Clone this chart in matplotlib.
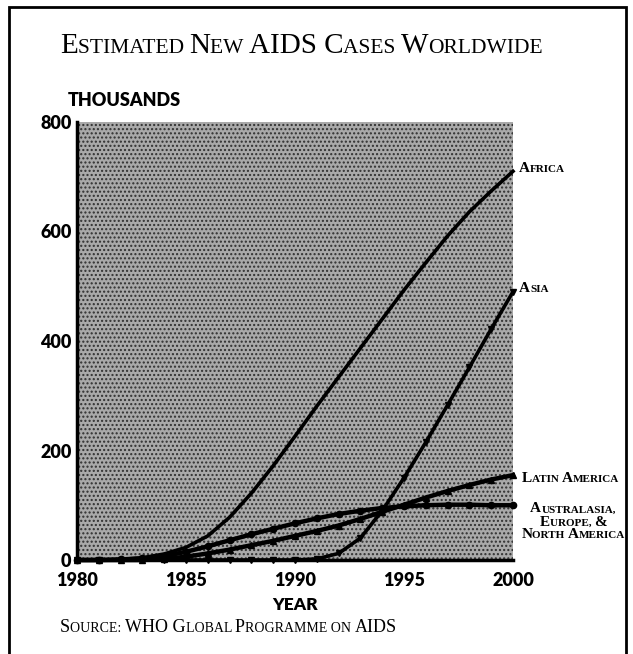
import numpy as np
import matplotlib
matplotlib.use('Agg')
import matplotlib.pyplot as plt
from matplotlib.offsetbox import TextArea, HPacker, VPacker, AnnotationBbox
from matplotlib.patches import Rectangle

years = list(range(1980, 2001))
africa = [0, 0, 1, 4, 11, 23, 44, 78, 122, 172, 226, 281, 334, 387, 440, 493, 543, 592, 636, 674, 710]
asia = [0, 0, 0, 0, 0, 0, 0, 0, 0, 0, 0, 2, 12, 40, 90, 150, 215, 283, 352, 422, 490]
latin = [0, 0, 0, 0, 2, 6, 12, 19, 27, 35, 44, 53, 63, 75, 88, 101, 114, 126, 137, 147, 155]
aus_eu_na = [0, 0, 1, 3, 7, 15, 25, 36, 47, 57, 67, 76, 84, 90, 95, 98, 100, 101, 101, 100, 100]

x_ticks = [1980, 1985, 1990, 1995, 2000]
y_ticks = [0, 200, 400, 600, 800]

SERIF = 'Liberation Serif'
SANS = ['Lato', 'DejaVu Sans']


def caps_runs(text):
    # uppercase letters big, lowercase shown as small capitals
    runs = []
    for c in text:
        if c.isupper() or c.isdigit() or c == '&':
            kind = 'big'
        elif c.islower():
            kind = 'small'
        else:
            kind = runs[-1][0] if runs else 'big'
        if runs and runs[-1][0] == kind:
            runs[-1][1] += c
        else:
            runs.append([kind, c])
    return runs


def caps_line(text, big, small, weight='normal'):
    boxes = []
    for kind, s in caps_runs(text):
        size = big if kind == 'big' else small
        boxes.append(TextArea(s.upper(), textprops=dict(family=SERIF, size=size,
                                                        weight=weight, color='black')))
    return HPacker(children=boxes, align='baseline', pad=0, sep=0)


def small_caps(fig, x, y, text, big, small, weight='normal', align=(0, 0.5)):
    lines = [caps_line(t, big, small, weight) for t in text.split('\n')]
    box = lines[0] if len(lines) == 1 else VPacker(children=lines, align='center', pad=0, sep=0)
    ab = AnnotationBbox(box, (x / 633, 1 - y / 654), xycoords='figure fraction',
                        box_alignment=align, frameon=False, pad=0)
    fig.add_artist(ab)


fig = plt.figure(figsize=(6.33, 6.54), dpi=100)
ax = fig.add_axes([77 / 633, 1 - 560 / 654, (513 - 77) / 633, (560 - 122) / 654])

ax.patch.set_facecolor('#a9a9a9')
ax.patch.set_hatch('....')
ax.patch.set_edgecolor('#303030')
ax.patch.set_linewidth(0)

lw = 2.6
ax.plot(years, africa, color='black', lw=lw, clip_on=False, zorder=3)
ax.plot(years, asia, color='black', lw=lw, marker='v', ms=4, clip_on=False, zorder=3)
ax.plot(years, latin, color='black', lw=lw + 0.6, marker='^', ms=4, clip_on=False, zorder=3)
ax.plot(years, aus_eu_na, color='black', lw=lw + 0.6, marker='o', ms=4.5, clip_on=False, zorder=3)

ax.set_xlim(1980, 2000)
ax.set_ylim(0, 800)
ax.set_xticks(x_ticks)
ax.set_yticks(y_ticks)
ax.tick_params(length=0, labelsize=13)
ax.tick_params(axis='x', pad=9)
ax.tick_params(axis='y', pad=4)
for lab in ax.get_xticklabels() + ax.get_yticklabels():
    lab.set_family(SANS)
    lab.set_weight('heavy')
ax.spines['top'].set_visible(False)
ax.spines['right'].set_visible(False)
ax.spines['left'].set_linewidth(2.5)
ax.spines['bottom'].set_linewidth(2.5)

fig.text(68 / 633, 1 - 101 / 654, 'THOUSANDS', family=SANS, weight='heavy', size=13,
         ha='left', va='center')
fig.text(295 / 633, 1 - 605 / 654, 'YEAR', family=SANS, weight='heavy', size=12.5,
         ha='center', va='center')

small_caps(fig, 60, 46, 'Estimated New AIDS Cases Worldwide', 21, 15.5)
small_caps(fig, 60, 628, 'Source: WHO Global Programme on AIDS', 13, 10)

small_caps(fig, 519, 168, 'Africa', 11, 8, weight='bold')
small_caps(fig, 519, 289, 'Asia', 11, 8, weight='bold')
small_caps(fig, 522, 478, 'Latin America', 11, 8, weight='bold')
small_caps(fig, 573, 522, 'Australasia,\nEurope, &\nNorth America', 11, 8, weight='bold',
           align=(0.5, 0.5))

fig.add_artist(Rectangle((9 / 633, -0.02), (626 - 9) / 633, 1.02 - 7 / 654,
                         transform=fig.transFigure, fill=False, lw=2, edgecolor='black'))

fig.savefig('out.png', dpi=100)
